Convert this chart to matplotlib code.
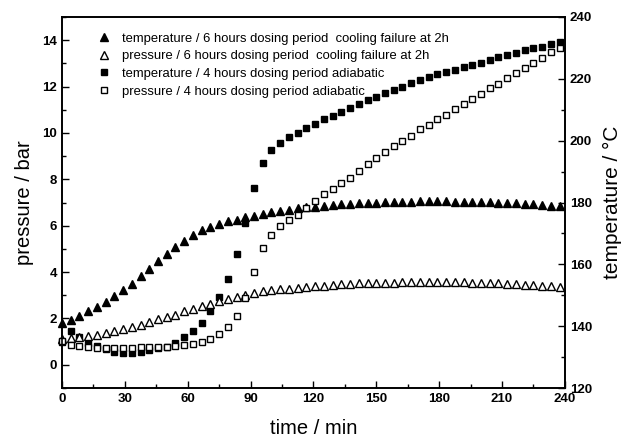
import matplotlib
matplotlib.use('Agg')
import matplotlib.pyplot as plt
from matplotlib.ticker import MultipleLocator

plt.rcParams.update({'font.family': 'Liberation Sans', 'font.size': 9})

# time axis, one sample every 250 s (minutes)
time_min = [0, 4.17, 8.33, 12.5, 16.67, 20.83, 25, 29.17, 33.33, 37.5,
            41.67, 45.83, 50, 54.17, 58.33, 62.5, 66.67, 70.83, 75, 79.17,
            83.33, 87.5, 91.67, 95.83, 100, 104.17, 108.33, 112.5, 116.67, 120.83,
            125, 129.17, 133.33, 137.5, 141.67, 145.83, 150, 154.17, 158.33, 162.5,
            166.67, 170.83, 175, 179.17, 183.33, 187.5, 191.67, 195.83, 200, 204.17,
            208.33, 212.5, 216.67, 220.83, 225, 229.17, 233.33, 237.5]

# temperature (degC), 6 h dosing, cooling failure at 2 h
temp_6h = [141.0, 142.1, 143.4, 144.8, 146.2, 147.8, 149.7, 151.7, 153.8, 156.2,
           158.6, 161.0, 163.4, 165.5, 167.6, 169.6, 171.0, 172.1, 173.1, 173.9,
           174.5, 175.2, 175.8, 176.3, 176.8, 177.2, 177.7, 178.1, 178.4, 178.7,
           179.0, 179.3, 179.5, 179.6, 179.8, 179.9, 180.0, 180.1, 180.2, 180.2,
           180.3, 180.4, 180.4, 180.4, 180.4, 180.3, 180.3, 180.2, 180.2, 180.1,
           180.0, 179.9, 179.7, 179.6, 179.4, 179.3, 179.0, 178.8]

# pressure (bar), 6 h dosing, cooling failure at 2 h
pres_6h = [1.10, 1.16, 1.19, 1.23, 1.30, 1.38, 1.45, 1.54, 1.62, 1.74,
           1.86, 1.96, 2.06, 2.17, 2.32, 2.42, 2.52, 2.64, 2.74, 2.84,
           2.93, 3.01, 3.10, 3.17, 3.22, 3.26, 3.29, 3.32, 3.36, 3.39,
           3.42, 3.45, 3.47, 3.49, 3.51, 3.52, 3.53, 3.54, 3.55, 3.56,
           3.56, 3.57, 3.57, 3.57, 3.57, 3.56, 3.56, 3.55, 3.54, 3.53,
           3.52, 3.50, 3.48, 3.46, 3.44, 3.42, 3.39, 3.36]

# temperature (degC), 4 h dosing, adiabatic
temp_4h = [135.0, 138.3, 136.4, 134.7, 133.5, 132.5, 131.6, 131.4, 131.4, 131.8,
           132.2, 132.8, 133.4, 134.6, 136.4, 138.5, 141.2, 144.8, 149.3, 155.3,
           163.3, 173.4, 184.7, 192.9, 197.0, 199.2, 201.2, 202.5, 204.0, 205.3,
           207.0, 208.1, 209.3, 210.5, 211.7, 213.0, 214.1, 215.3, 216.3, 217.4,
           218.5, 219.5, 220.5, 221.4, 222.3, 222.8, 223.7, 224.5, 225.2, 226.1,
           226.9, 227.7, 228.5, 229.3, 229.9, 230.4, 231.2, 231.8]

# pressure (bar), 4 h dosing, adiabatic
pres_4h = [1.01, 0.87, 0.83, 0.78, 0.72, 0.71, 0.71, 0.71, 0.72, 0.75,
           0.75, 0.78, 0.78, 0.83, 0.85, 0.92, 1.00, 1.12, 1.33, 1.62,
           2.12, 2.90, 4.01, 5.03, 5.61, 5.97, 6.26, 6.48, 6.75, 7.06,
           7.35, 7.57, 7.86, 8.07, 8.36, 8.65, 8.90, 9.16, 9.45, 9.67,
           9.88, 10.17, 10.35, 10.61, 10.78, 11.04, 11.26, 11.48, 11.70, 11.94,
           12.13, 12.38, 12.57, 12.78, 13.03, 13.25, 13.51, 13.68]

labels = ['temperature / 6 hours dosing period  cooling failure at 2h',
          'pressure / 6 hours dosing period  cooling failure at 2h',
          'temperature / 4 hours dosing period adiabatic',
          'pressure / 4 hours dosing period adiabatic']

fig = plt.figure(figsize=(6.22, 4.41), dpi=100)
ax = fig.add_axes([0.0997, 0.120, 0.8083, 0.8415])
ax2 = ax.twinx()
# pressures (open symbols) drawn above the temperature axis
ax.set_zorder(ax2.get_zorder() + 1)
ax.patch.set_visible(False)

h1, = ax2.plot(time_min, temp_6h, linestyle='none', marker='^', ms=6,
               mfc='black', mec='black', clip_on=False)
h3, = ax2.plot(time_min, temp_4h, linestyle='none', marker='s', ms=5,
               mfc='black', mec='black', clip_on=False)
h2, = ax.plot(time_min, pres_6h, linestyle='none', marker='^', ms=6,
              mfc='white', mec='black', mew=1.0, clip_on=False)
h4, = ax.plot(time_min, pres_4h, linestyle='none', marker='s', ms=5,
              mfc='white', mec='black', mew=1.0, clip_on=False)

ax.set_xlim(0, 240)
ax.set_ylim(-1, 15)
ax2.set_ylim(120, 240)

ax.xaxis.set_major_locator(MultipleLocator(30))
ax.xaxis.set_minor_locator(MultipleLocator(15))
ax.yaxis.set_major_locator(MultipleLocator(2))
ax.yaxis.set_minor_locator(MultipleLocator(1))
ax2.yaxis.set_major_locator(MultipleLocator(20))
ax2.yaxis.set_minor_locator(MultipleLocator(10))

for a in (ax, ax2):
    a.tick_params(which='both', direction='in', top=False, labelsize=9.5)
    a.tick_params(which='major', length=5, width=1)
    a.tick_params(which='minor', length=3, width=1)
    for lbl in a.get_xticklabels() + a.get_yticklabels():
        lbl.set_fontweight('bold')
    for sp in a.spines.values():
        sp.set_linewidth(1.2)

ax.set_xlabel('time / min', fontsize=14.5, labelpad=10)
ax.set_ylabel('pressure / bar', fontsize=14.5, labelpad=6)
ax2.set_ylabel('temperature / \u00b0C', fontsize=15, labelpad=8)

leg = ax.legend([h1, h2, h3, h4], labels, loc='upper left', frameon=False,
                fontsize=9.4, handlelength=1.0, handletextpad=0.9,
                labelspacing=0.42, borderaxespad=0.0,
                bbox_to_anchor=(0.06, 0.972))

fig.savefig('out.png', dpi=100)
